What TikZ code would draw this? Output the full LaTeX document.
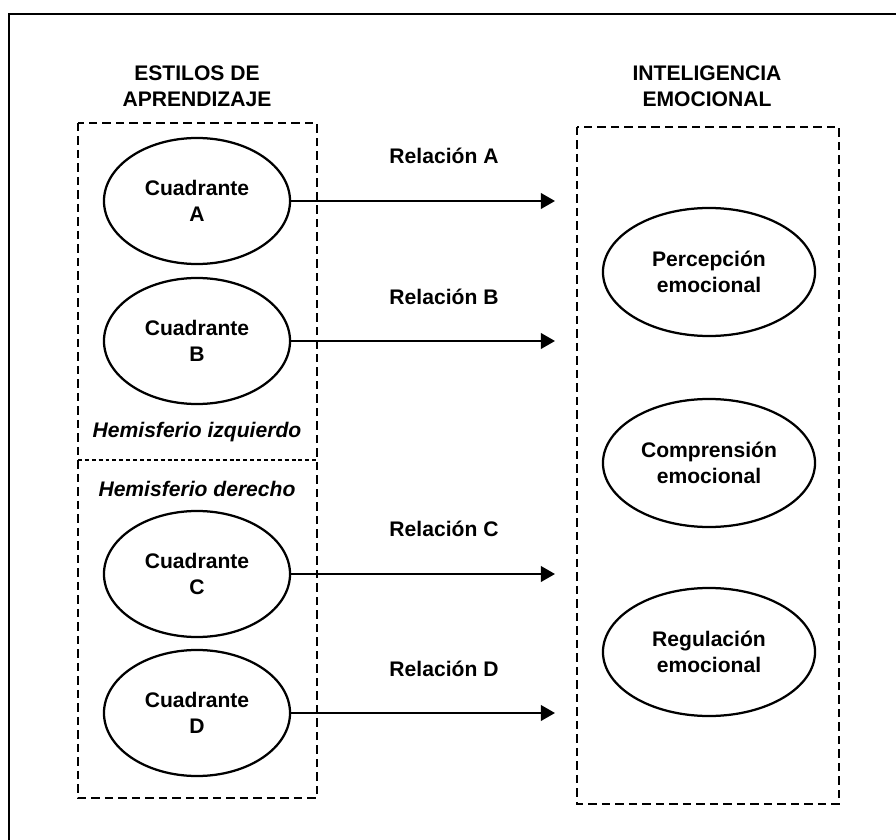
\documentclass[tikz,border=0pt]{standalone}
\usepackage{fontspec}
\setmainfont{Liberation Sans}
\usetikzlibrary{shapes.geometric,arrows.meta}

\begin{document}
\begin{tikzpicture}[x=0.025cm,y=-0.025cm,
  font=\fontsize{15}{18.4}\selectfont\bfseries,
  cuadro/.style={ellipse,draw,line width=1.6pt,minimum width=4.65cm,minimum height=3.15cm,inner sep=0pt,align=center},
  emocion/.style={ellipse,draw,line width=1.6pt,minimum width=5.3cm,minimum height=3.2cm,inner sep=0pt,align=center},
  caja/.style={draw,line width=1.7pt,dash pattern=on 6pt off 3.6pt},
  relacion/.style={line width=1.6pt,-{Triangle[length=10pt,width=11pt]}}]
\useasboundingbox (0,0) rectangle (896,840);
\draw[line width=1.2pt] (9,840) -- (9,14) -- (896,14);

% titulos
\node[align=center] (estilos) at (197,86) {ESTILOS DE\\APRENDIZAJE};
\node[align=center] (inteligencia) at (707,86) {INTELIGENCIA\\EMOCIONAL};

% cajas
\draw[caja] (78,123) rectangle (317,798);
\draw[caja] (577,127) rectangle (839,804);
\draw[line width=0.8pt,dash pattern=on 2.8pt off 2.1pt] (78,460) -- (317,460);

% cuadrantes
\node[cuadro] (cuadA) at (197,201) {Cuadrante\\A};
\node[cuadro] (cuadB) at (197,341) {Cuadrante\\B};
\node[cuadro] (cuadC) at (197,574) {Cuadrante\\C};
\node[cuadro] (cuadD) at (197,713) {Cuadrante\\D};

\node (izq) at (197,432) {\itshape Hemisferio izquierdo};
\node (der) at (197,489) {\itshape Hemisferio derecho};

% inteligencia emocional
\node[emocion] (percepcion) at (709,272) {Percepción\\emocional};
\node[emocion] (comprension) at (709,463) {Comprensión\\emocional};
\node[emocion] (regulacion) at (709,652) {Regulación\\emocional};

% relaciones
\coordinate (finA) at (555,201);
\coordinate (finB) at (555,341);
\coordinate (finC) at (555,574);
\coordinate (finD) at (555,713);
\draw[relacion] (cuadA.east) -- (finA);
\draw[relacion] (cuadB.east) -- (finB);
\draw[relacion] (cuadC.east) -- (finC);
\draw[relacion] (cuadD.east) -- (finD);

\node (relA) at (444,156) {Relación A};
\node (relB) at (444,297) {Relación B};
\node (relC) at (444,529) {Relación C};
\node (relD) at (444,669) {Relación D};

\end{tikzpicture}
\end{document}
